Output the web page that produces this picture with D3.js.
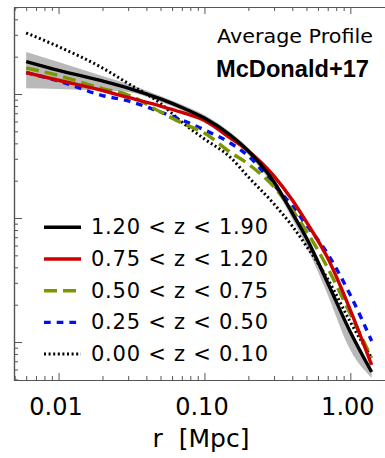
<!DOCTYPE html>
<html>
<head>
<meta charset="utf-8">
<script src="https://cdn.jsdelivr.net/npm/d3@7"></script>
<style>
    body { margin: 0; background: #fff; }
    svg { display: block; }
</style>
</head>
<body>
<div id="chart"></div>
<script>
// radius grid (Mpc) shared by all profiles
const radius = [0.006, 0.01, 0.02, 0.03, 0.05, 0.07, 0.1, 0.15, 0.2, 0.3, 0.4, 0.5, 0.7, 1.0, 1.4];

// average profiles per redshift bin
const prof_120_190 = [182.2, 154.9, 127.4, 111.7, 91.2, 77.8, 64.0, 46.7, 34.7, 19.5, 10.96, 6.90, 2.99, 1.205, 0.573];
const prof_075_120 = [148.9, 129.1, 106.7, 93.8, 80.0, 71.0, 61.1, 44.2, 34.7, 21.8, 13.97, 9.29, 4.75, 1.81, 0.653];
const prof_050_075 = [162.2, 140.9, 110.7, 98.2, 71.6, 58.3, 48.4, 34.0, 27.2, 17.8, 11.6, 7.85, 3.95, 1.68, 0.743];
const prof_025_050 = [148.9, 127.4, 97.2, 87.9, 71.6, 61.7, 51.3, 40.3, 31.6, 18.5, 12.5, 8.79, 5.13, 2.39, 1.02];
const prof_000_010 = [310.5, 241.0, 162.2, 121.6, 83.8, 59.4, 43.4, 31.0, 21.4, 12.97, 8.61, 5.94, 3.22, 1.45, 0.743];

// scatter band around the highest-z profile
const band_hi = [218.3, 181.1, 139.7, 120.4, 96.4, 82.3, 67.7, 49.4, 36.7, 20.6, 11.6, 7.43, 3.22, 1.25, 0.594];
const band_lo = [111.2, 109.7, 106.7, 103.8, 86.1, 73.6, 60.5, 44.2, 32.2, 17.8, 9.82, 5.94, 2.39, 0.861, 0.513];

const legendLabels = ["1.20 < z < 1.90", "0.75 < z < 1.20", "0.50 < z < 0.75", "0.25 < z < 0.50", "0.00 < z < 0.10"];
const xMajor = [0.01, 0.1, 1];
const xTickLabels = ["0.01", "0.10", "1.00"];

const series = [
    { name: legendLabels[4], values: prof_000_010, color: "#000000", width: 3, dash: "2,2.6" },
    { name: legendLabels[3], values: prof_025_050, color: "#0010f0", width: 3.4, dash: "6.7,6" },
    { name: legendLabels[2], values: prof_050_075, color: "#7a9700", width: 3.4, dash: "13,6" },
    { name: legendLabels[1], values: prof_075_120, color: "#cc0000", width: 3.4, dash: null },
    { name: legendLabels[0], values: prof_120_190, color: "#000000", width: 3.4, dash: null }
];

const W = 385, H = 458;
const svg = d3.select("#chart").append("svg").attr("width", W).attr("height", H);

const x = d3.scaleLog().domain([0.00495, 1.9]).range([14, 391]);
const y = d3.scaleLog().domain([0.494, 503]).range([380, 7]);

// minor tick values
const xMinor = [];
[0.001, 0.01, 0.1, 1].forEach(d => { for (let k = 2; k <= 9; k++) { const v = d * k; if (v > 0.00495 && v < 1.9) xMinor.push(v); } });
const yMajor = [1, 10, 100];
const yMinor = [];
[0.1, 1, 10, 100].forEach(d => { for (let k = 2; k <= 9; k++) { const v = d * k; if (v > 0.494 && v < 503) yMinor.push(v); } });

const axisColor = "#555";

function styleAxis(g) {
    g.selectAll("path.domain").attr("stroke", axisColor).attr("stroke-width", 1.2);
    g.selectAll(".tick line").attr("stroke", axisColor).attr("stroke-width", 1);
}

// band
const area = d3.area()
    .x((d, i) => x(radius[i]))
    .y0((d, i) => y(band_lo[i]))
    .y1((d, i) => y(band_hi[i]))
    .curve(d3.curveMonotoneX);

svg.append("path")
    .datum(band_hi)
    .attr("fill", "#b9b9b9")
    .attr("d", area);

// profiles
const line = d3.line()
    .x((d, i) => x(radius[i]))
    .y(d => y(d))
    .curve(d3.curveMonotoneX);

series.forEach(s => {
    svg.append("path")
        .datum(s.values)
        .attr("fill", "none")
        .attr("stroke", s.color)
        .attr("stroke-width", s.width)
        .attr("stroke-dasharray", s.dash)
        .attr("d", line);
});

// bottom axis
svg.append("g").attr("transform", "translate(0,380)")
    .call(d3.axisBottom(x).tickValues(xMinor).tickSize(-4).tickSizeOuter(0).tickFormat(""))
    .call(styleAxis);
const xb = svg.append("g").attr("transform", "translate(0,380)")
    .call(d3.axisBottom(x).tickValues(xMajor).tickSize(-7).tickSizeOuter(0).tickPadding(18)
        .tickFormat((d, i) => xTickLabels[i]))
    .call(styleAxis);
xb.selectAll("text")
    .attr("dx", -3)
    .attr("fill", "#000")
    .style("font-family", "DejaVu Sans")
    .style("font-size", "24px");

// top axis
svg.append("g").attr("transform", "translate(0,7)")
    .call(d3.axisTop(x).tickValues(xMinor).tickSize(-4).tickSizeOuter(0).tickFormat(""))
    .call(styleAxis);
svg.append("g").attr("transform", "translate(0,7)")
    .call(d3.axisTop(x).tickValues(xMajor).tickSize(-7).tickSizeOuter(0).tickFormat(""))
    .call(styleAxis);

// left axis
svg.append("g").attr("transform", "translate(14,0)")
    .call(d3.axisLeft(y).tickValues(yMinor).tickSize(-4).tickSizeOuter(0).tickFormat(""))
    .call(styleAxis);
svg.append("g").attr("transform", "translate(14,0)")
    .call(d3.axisLeft(y).tickValues(yMajor).tickSize(-8).tickSizeOuter(0).tickFormat(""))
    .call(styleAxis);

// x axis title
svg.append("text")
    .attr("x", 201)
    .attr("y", 447)
    .attr("text-anchor", "middle")
    .style("white-space", "pre")
    .style("font-family", "DejaVu Sans")
    .style("font-size", "25px")
    .text("r  [Mpc]");

// titles
svg.append("text")
    .attr("x", 217)
    .attr("y", 43)
    .attr("textLength", 156)
    .attr("lengthAdjust", "spacingAndGlyphs")
    .style("font-family", "DejaVu Sans")
    .style("font-size", "20px")
    .text("Average Profile");

svg.append("text")
    .attr("x", 216)
    .attr("y", 77)
    .attr("textLength", 153)
    .attr("lengthAdjust", "spacingAndGlyphs")
    .style("font-family", "Liberation Sans")
    .style("font-weight", "bold")
    .style("font-size", "24px")
    .text("McDonald+17");

// legend
const legendOrder = [4, 3, 2, 1, 0];
const legend = svg.append("g");
legendOrder.forEach((si, i) => {
    const s = series[si];
    const yy = 234.3 + i * 31.7;
    legend.append("line")
        .attr("x1", 44).attr("x2", 81)
        .attr("y1", yy - 7).attr("y2", yy - 7)
        .attr("stroke", s.color)
        .attr("stroke-width", s.width)
        .attr("stroke-dasharray", s.dash);
    legend.append("text")
        .attr("x", 91)
        .attr("y", yy)
        .attr("textLength", 177)
        .attr("lengthAdjust", "spacing")
        .style("font-family", "DejaVu Sans")
        .style("font-size", "21px")
        .text(s.name);
});
</script>
</body>
</html>
